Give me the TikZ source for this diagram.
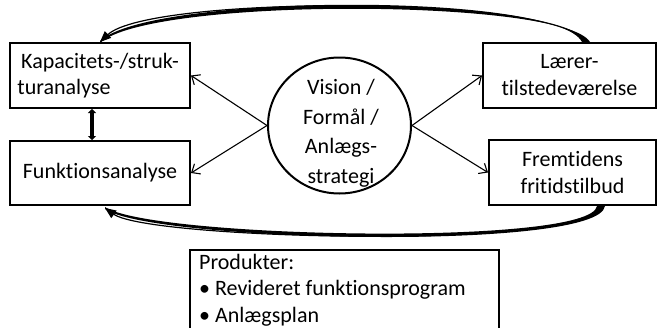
\documentclass[tikz,border=0pt]{standalone}
\usepackage{fontspec}
\setmainfont[Ligatures=NoCommon]{Carlito}
\usetikzlibrary{arrows.meta,shapes.geometric,calc}
\begin{document}
\begin{tikzpicture}[x=1pt,y=-1pt,
  txt/.style={font=\fontsize{22}{27}\selectfont},
  box/.style={draw,line width=2pt,minimum height=65pt,inner sep=2pt,align=center,txt},
  thin arrow/.style={line width=1.1pt,-{Straight Barb[length=7pt,width=12pt]}},
  loop arrow/.style={line width=1.2pt,-{Triangle[length=11pt,width=9pt]}},
]
\useasboundingbox (0,0) rectangle (662,327);
\clip (0,0) rectangle (662,327);

% boxes
\node[box,minimum width=180pt] (K) at (100,75.5) {Kapacitets-/struk-\\[-1pt]turanalyse\hspace*{72pt}};
\node[box,minimum width=180pt,minimum height=64pt] (F) at (100,173) {Funktionsanalyse};
\node[box,minimum width=173pt] (L) at (569.5,75.5) {Lærer-\\tilstedeværelse};
\node[box,minimum width=167pt] (Fr) at (572.5,172.5) {Fremtidens\\fritidstilbud};

% vision ellipse
\node[draw,ellipse,line width=2pt,minimum width=143pt,minimum height=136pt] (V) at (339.5,125.5) {};
\node[align=center,font=\fontsize{22}{29.5}\selectfont] (Vt) at (341,133) {Vision /\\Formål /\\Anlægs-\\strategi};

% products
\node[draw,line width=2pt,minimum width=309pt,minimum height=100pt,anchor=north west] (P) at (189,249) {};
\node[anchor=north west,align=left,inner sep=0pt,font=\fontsize{22}{26.5}\selectfont] (Pt) at ($(P.north west)+(10,5)$) {Produkter:\\• Revideret funktionsprogram\\• Anlægsplan};

% arrows from vision
\draw[thin arrow] (V.west) -- (K.east);
\draw[thin arrow] (V.west) -- (F.east);
\draw[thin arrow] (V.east) -- (L.west);
\draw[thin arrow] (V.east) -- (Fr.west);

% double arrow between K and F
\draw[line width=3.5pt,{Triangle[length=4pt,width=8pt]}-{Triangle[length=4pt,width=8pt]}] ([xshift=-8pt]K.south) -- ([xshift=-8pt]F.north);

% top loop: from L to K
\coordinate (ts) at ([xshift=16.5pt]L.north);
\coordinate (te) at (K.north);
\fill ($(ts)+(-4,0)$) .. controls (556,-8.5) and (150,-6.5) .. ($(te)+(0,-1)$)
      -- ($(te)+(0,1)$) .. controls (150,-3.5) and (564,-1.5) .. ($(ts)+(4,0)$) -- cycle;
\draw[loop arrow] (ts) .. controls (560,-5) and (150,-5) .. (te);

% bottom loop: from Fr to F
\coordinate (bs) at ([xshift=28.5pt]Fr.south);
\coordinate (be) at ($(F.south)+(5,2)$);
\fill ($(bs)+(-4,0)$) .. controls (591,247) and (150,238) .. ($(be)+(0,-1)$)
      -- ($(be)+(0,1)$) .. controls (150,241.5) and (599,252) .. ($(bs)+(4,0)$) -- cycle;
\draw[loop arrow] (bs) .. controls (595,250) and (150,240) .. (be);
\end{tikzpicture}
\end{document}
